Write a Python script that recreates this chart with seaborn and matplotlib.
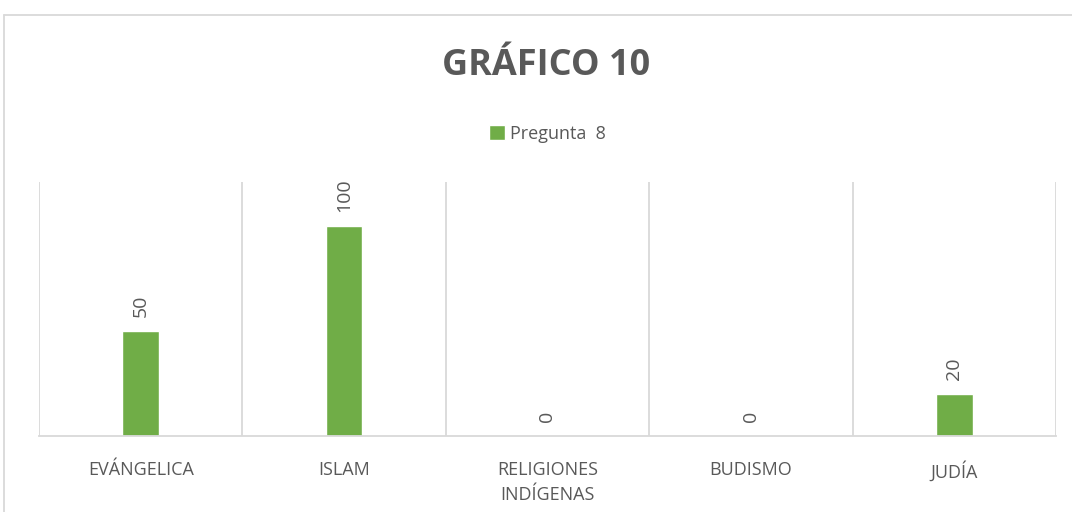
import numpy as np
import pandas as pd
import matplotlib
matplotlib.use('Agg')
import matplotlib.pyplot as plt
import seaborn as sns

## ============================

categorias = ['EVÁNGELICA', 'ISLAM', 'RELIGIONES\nINDÍGENAS', 'BUDISMO', 'JUDÍA']
valores = [50, 100, 0, 0, 20]
serie = 'Pregunta  8'

df = pd.DataFrame({'categoria': categorias, 'valor': valores})

verde = '#70AD47'
gris_texto = '#595959'
gris_linea = '#D9D9D9'

## ============================

sns.set_style('white')
plt.rcParams['font.family'] = ['Open Sans', 'DejaVu Sans']

fig = plt.figure(figsize=(10.72, 5.12), dpi=100)
ax = fig.add_axes([0.0364, 0.1484, 0.9486, 0.4961])

sns.barplot(ax=ax, data=df, x='categoria', y='valor', color=verde,
			width=0.18, saturation=1, label=serie)

n = len(categorias)
ax.set_xlim(-0.5, n - 0.5)
ax.set_ylim(0, 121)
for b in np.arange(-0.5, n, 1.0):
	ax.axvline(b, color=gris_linea, lw=1.3, zorder=0)

for i, v in enumerate(valores):
	ax.annotate(str(v), xy=(i, v), xytext=(0, 10), textcoords='offset points',
				rotation=90, ha='center', va='bottom', fontsize=14, color=gris_texto)

for s in ['top', 'right', 'left']:
	ax.spines[s].set_visible(False)
ax.spines['bottom'].set_color(gris_linea)
ax.spines['bottom'].set_linewidth(1.3)
ax.set_yticks([])
ax.set_xlabel('')
ax.set_ylabel('')
ax.tick_params(axis='x', length=0, pad=18, labelsize=13, labelcolor=gris_texto)
for t in ax.get_xticklabels():
	t.set_linespacing(1.5)

ax.legend(loc='upper center', bbox_to_anchor=(0.5, 1.29), frameon=False,
		  fontsize=13, labelcolor=gris_texto, handlelength=0.9, handleheight=0.9,
		  handletextpad=0.3)

fig.text(0.509, 0.872, 'GRÁFICO 10', ha='center', va='center', fontsize=26,
		 fontweight='bold', color=gris_texto)

# marco del grafico
fig.add_artist(plt.Line2D([0.004, 0.004], [0, 0.971], color=gris_linea, lw=1.3))
fig.add_artist(plt.Line2D([0.004, 1.0], [0.971, 0.971], color=gris_linea, lw=1.3))

fig.savefig('out.png', dpi=100)
